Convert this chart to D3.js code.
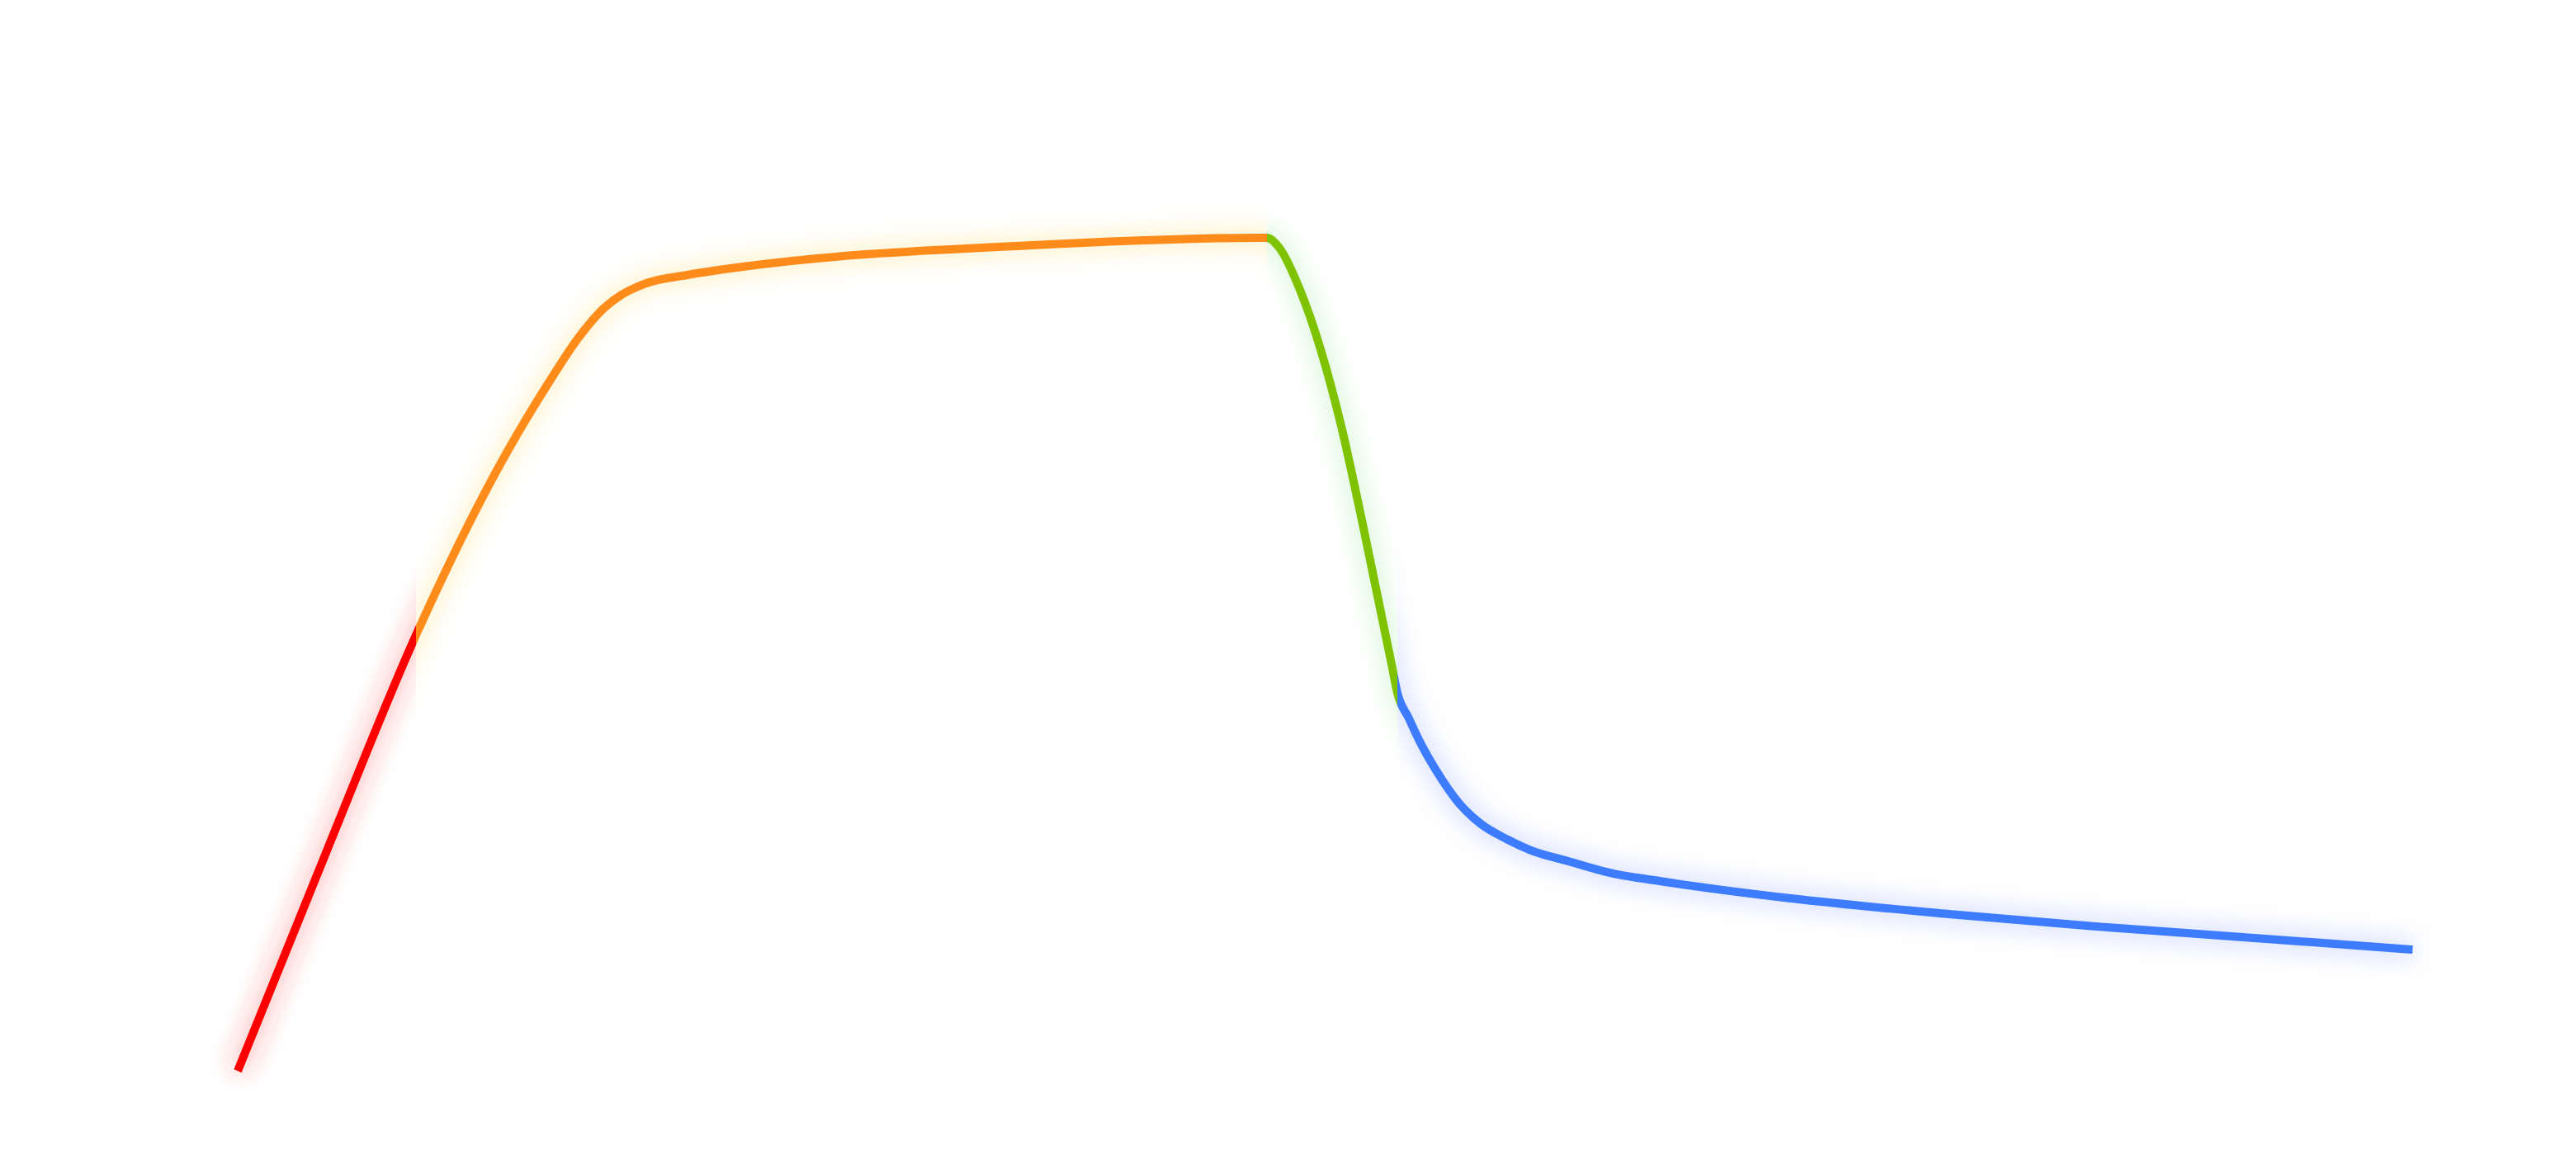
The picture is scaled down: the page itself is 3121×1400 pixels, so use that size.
<!DOCTYPE html>
<html>

<head>
  <script src='https://cdn.jsdelivr.net/npm/d3@7/dist/d3.min.js'></script>
  <meta charset='utf-8'>
  <title></title>
  <style>
    html, body {
      margin: 0;
      padding: 0;
      background: #fff;
    }
    #chart {
      width: 3121px;
      height: 1400px;
    }
  </style>
</head>

<body>
  <div id='chart'></div>
  <script>
    // values (no axes shown, so both run 0..100)
    var xValues = [0, 4.1, 8.2, 12.37, 14.38, 15.64, 16.89, 17.65, 18.79, 20.68, 23.23, 36.51, 47.32,
      47.89, 48.84, 49.79, 50.74, 51.69, 53.06, 53.32, 53.85, 54.35, 55.1, 56.13, 57.12,
      58.41, 59.39, 61.18, 63.07, 65.62, 71.42, 78.67, 85.96, 100];
    var yValues = [0, 26.46, 52.33, 74.23, 82.95, 87.91, 91.68, 93.16, 94.55, 95.54, 96.53, 99.11, 100,
      98.81, 93.76, 86.62, 77.4, 66.11, 48.76, 45.39, 42.32, 39.54, 36.08, 32.21, 29.73,
      27.75, 26.56, 25.17, 23.79, 22.7, 20.71, 18.83, 17.24, 14.57];

    // colour pieces along x
    var pieceStops = [0, 8.2, 47.32, 53.32, 100];
    var pieceColors = ['#ff0000', '#ff8c1a', '#7fc200', '#3d7bff'];
    var glowColors = ['#ff3030', '#ffd24a', '#7fe07f', '#6f8fff'];

    var data = xValues.map(function(x, i) {
      return { x: x, y: yValues[i] };
    });

    var width = 3121,
      height = 1400;

    var margin = {
      top: 288,
      right: 198,
      bottom: 103,
      left: 288
    };

    var svg = d3.select('#chart')
      .append('svg')
      .attr('width', width)
      .attr('height', height);

    var innerW = width - margin.left - margin.right,
      innerH = height - margin.top - margin.bottom;

    var xScale = d3.scaleLinear()
      .domain([0, 100])
      .range([0, innerW]);

    var yScale = d3.scaleLinear()
      .domain([0, 100])
      .range([innerH, 0]);

    var defs = svg.append('defs');

    defs.append('filter')
      .attr('id', 'glow')
      .attr('x', '-50%')
      .attr('y', '-50%')
      .attr('width', '200%')
      .attr('height', '200%')
      .append('feGaussianBlur')
      .attr('stdDeviation', 14);

    var g = svg.append('g')
      .attr('transform', 'translate(' + margin.left + ',' + margin.top + ')');

    var line = d3.line()
      .x(function(d) { return xScale(d.x); })
      .y(function(d) { return yScale(d.y); })
      .curve(d3.curveMonotoneX);

    var pathD = line(data);

    function pieceRect(i) {
      var x0 = xScale(pieceStops[i]),
        x1 = xScale(pieceStops[i + 1]);
      // first and last piece run out to the edge so the glow isn't cut
      var left = i === 0 ? -margin.left : x0;
      var right = i === pieceColors.length - 1 ? innerW + margin.right : x1;
      return { x: left, w: right - left };
    }

    pieceColors.forEach(function(c, i) {
      var r = pieceRect(i);
      defs.append('clipPath')
        .attr('id', 'clip' + i)
        .append('rect')
        .attr('x', r.x)
        .attr('y', -margin.top)
        .attr('width', r.w)
        .attr('height', height);
    });

    // soft glow under the line
    pieceColors.forEach(function(c, i) {
      g.append('g')
        .attr('clip-path', 'url(#clip' + i + ')')
        .append('path')
        .attr('d', pathD)
        .attr('fill', 'none')
        .attr('stroke', glowColors[i])
        .attr('stroke-opacity', 0.3)
        .attr('stroke-width', 22)
        .attr('filter', 'url(#glow)');
    });

    pieceColors.forEach(function(c, i) {
      g.append('path')
        .attr('clip-path', 'url(#clip' + i + ')')
        .attr('d', pathD)
        .attr('fill', 'none')
        .attr('stroke', c)
        .attr('stroke-width', 10)
        .attr('stroke-linejoin', 'round');
    });
  </script>
</body>

</html>
